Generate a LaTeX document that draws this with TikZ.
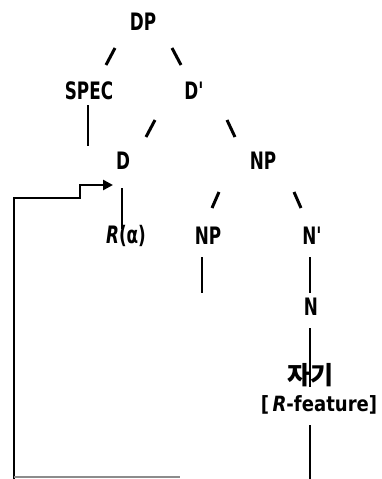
\documentclass[tikz,border=0pt]{standalone}
\usepackage{fontspec}
\setmainfont{DejaVu Sans}[FakeStretch=0.86]
\newfontfamily\narrowfont{DejaVu Sans}[FakeStretch=0.7]
\newfontfamily\kofont{Noto Sans CJK KR}
\usetikzlibrary{arrows.meta}
\begin{document}
\begin{tikzpicture}[x=1pt,y=-1pt,
  lbl/.style={inner sep=0pt, font=\narrowfont\bfseries\fontsize{24}{26}\selectfont},
  featlbl/.style={inner sep=0pt, font=\bfseries\fontsize{21}{24}\selectfont},
  branch/.style={line width=3pt},
  stem/.style={line width=2.8pt},
  link/.style={line width=2.8pt}]
\useasboundingbox (0,0) rectangle (382,479);

% tree labels
\node[lbl] (dp)   at (143,22)  {DP};
\node[lbl] (spec) at (89,91)   {SPEC};
\node[lbl] (dbar) at (194,91)  {D'};
\node[lbl] (d)    at (123,161) {D};
\node[lbl] (np)   at (263,161) {NP};
\node[lbl] (ra)   at (126,236) {\textit{R}(α)};
\node[lbl] (np2)  at (208,236) {NP};
\node[lbl] (nbar) at (312,236) {N'};
\node[lbl] (n)    at (311,307) {N};
\node[inner sep=0pt, font=\kofont\bfseries\fontsize{25}{28}\selectfont] (jagi) at (310,375) {자기};
\node[featlbl] (feat) at (319,405) {[\,\textit{R}-feature]};

% branch strokes
\draw[branch] (115,48) -- (106,65);
\draw[branch] (172,48) -- (181,65);
\draw[branch] (155,120) -- (146,137);
\draw[branch] (227,120) -- (235,137);
\draw[branch] (219,192) -- (212,208);
\draw[branch] (294,192) -- (301,208);

% vertical stems
\draw[stem] (88,105) -- (88,146);
\draw[stem] (122,188) -- (122,229);
\draw[stem] (202,257) -- (202,293);
\draw[stem] (310,257) -- (310,293);
\draw[stem] (310,328) -- (310,387);
\draw[stem] (310,425) -- (310,479);

% binding path
\coordinate (b0) at (14,479);
\coordinate (b1) at (14,198);
\coordinate (b2) at (80,198);
\coordinate (b3) at (80,185);
\coordinate (b4) at (113,185);
\draw[link,-{Triangle[length=10pt,width=10pt]}] (b0) -- (b1) -- (b2) -- (b3) -- (b4);
\draw[line width=1.4pt, black!45] (14,477) -- (180,477);
\end{tikzpicture}
\end{document}
